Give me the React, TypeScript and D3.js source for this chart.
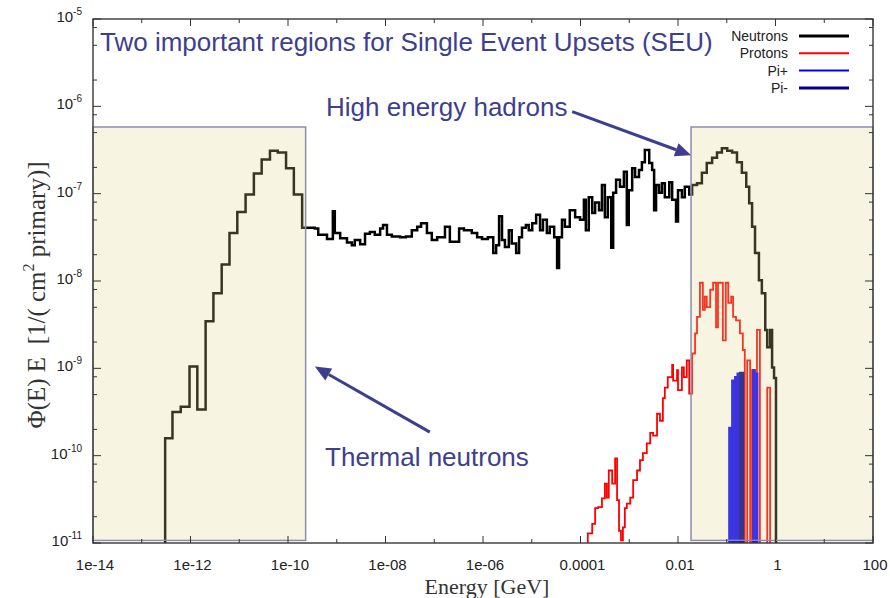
import React, { useEffect, useRef } from "react";
import * as d3 from "d3";

// histogram bins: [log10(E / GeV) of lower edge, log10(flux)], null = empty bin
type Bin = [number, number | null];

const neutronBins: Bin[] = [
  [-12.52, null], [-12.52, -9.80], [-12.37, -9.50], [-12.20, -9.44], [-12.02, -8.98], [-11.86, -9.47],
  [-11.69, -8.46], [-11.53, -8.14], [-11.36, -7.81], [-11.20, -7.45], [-11.04, -7.21], [-10.87, -7.01],
  [-10.70, -6.77], [-10.54, -6.61], [-10.37, -6.51], [-10.21, -6.53], [-10.04, -6.71], [-9.88, -7.01],
  [-9.71, -7.39], [-9.45, -7.40], [-9.38, -7.47], [-9.20, -7.52], [-9.08, -7.20], [-9.04, -7.45],
  [-8.93, -7.51], [-8.79, -7.56], [-8.69, -7.59], [-8.63, -7.53], [-8.52, -7.58], [-8.42, -7.46],
  [-8.32, -7.44], [-8.22, -7.47], [-8.11, -7.40], [-8.05, -7.36], [-7.97, -7.47], [-7.87, -7.49],
  [-7.70, -7.50], [-7.58, -7.49], [-7.46, -7.42], [-7.35, -7.38], [-7.27, -7.34], [-7.15, -7.45],
  [-7.05, -7.53], [-6.94, -7.50], [-6.78, -7.38], [-6.68, -7.55], [-6.49, -7.40], [-6.39, -7.42],
  [-6.23, -7.45], [-6.12, -7.50], [-6.02, -7.52], [-5.90, -7.50], [-5.79, -7.68], [-5.73, -7.59],
  [-5.67, -7.26], [-5.61, -7.53], [-5.55, -7.61], [-5.47, -7.42], [-5.41, -7.57], [-5.32, -7.68],
  [-5.26, -7.50], [-5.20, -7.39], [-5.12, -7.36], [-5.06, -7.42], [-4.99, -7.34], [-4.91, -7.24],
  [-4.83, -7.42], [-4.77, -7.30], [-4.69, -7.45], [-4.63, -7.38], [-4.54, -7.50], [-4.48, -7.85],
  [-4.44, -7.50], [-4.38, -7.30], [-4.32, -7.38], [-4.22, -7.19], [-4.11, -7.27], [-4.01, -7.30],
  [-3.93, -7.07], [-3.89, -7.42], [-3.83, -7.04], [-3.76, -7.22], [-3.70, -7.10], [-3.62, -7.19],
  [-3.56, -6.90], [-3.50, -7.27], [-3.44, -7.04], [-3.37, -7.62], [-3.33, -6.99], [-3.27, -6.84],
  [-3.19, -6.92], [-3.11, -6.75], [-3.05, -7.36], [-3.01, -6.96], [-2.94, -6.71], [-2.88, -6.81],
  [-2.80, -6.73], [-2.74, -6.64], [-2.68, -6.50], [-2.59, -6.65], [-2.53, -6.73], [-2.49, -7.19],
  [-2.45, -6.90], [-2.39, -6.99], [-2.33, -6.88], [-2.27, -7.04], [-2.18, -6.87], [-2.12, -7.07],
  [-2.04, -7.32], [-2.00, -6.96], [-1.92, -7.04], [-1.86, -6.92], [-1.77, -7.01], [-1.71, -6.90],
  [-1.61, -6.88], [-1.51, -6.76], [-1.41, -6.65], [-1.30, -6.59], [-1.20, -6.53], [-1.10, -6.48],
  [-0.99, -6.51], [-0.89, -6.53], [-0.79, -6.64], [-0.69, -6.76], [-0.60, -6.92], [-0.54, -7.11],
  [-0.48, -7.38], [-0.42, -7.68], [-0.34, -7.99], [-0.28, -8.14], [-0.21, -8.56], [-0.17, -8.76],
  [-0.11, -8.56], [-0.07, -8.99], [-0.03, -9.11], [0.01, null],
];

const protonBins: Bin[] = [
  [-3.85, null], [-3.85, -10.89], [-3.76, -10.78], [-3.70, -10.60], [-3.64, -10.59], [-3.56, -10.49],
  [-3.50, -10.32], [-3.46, -10.48], [-3.42, -10.17], [-3.35, -10.32], [-3.29, -10.03], [-3.25, -10.51],
  [-3.21, -10.86], [-3.17, -10.97], [-3.13, -10.82], [-3.09, -10.60], [-3.05, -10.55], [-2.98, -10.48],
  [-2.92, -10.28], [-2.84, -10.17], [-2.78, -10.05], [-2.72, -9.97], [-2.64, -9.86], [-2.57, -9.74],
  [-2.51, -9.77], [-2.43, -9.52], [-2.37, -9.60], [-2.31, -9.34], [-2.27, -9.22], [-2.21, -9.10],
  [-2.12, -8.96], [-2.10, -9.14], [-2.02, -9.02], [-2.00, -9.25], [-1.92, -8.99], [-1.88, -9.10],
  [-1.82, -8.91], [-1.77, -9.29], [-1.71, -8.83], [-1.65, -8.60], [-1.61, -8.41], [-1.55, -8.02],
  [-1.49, -8.33], [-1.45, -8.18], [-1.41, -8.30], [-1.34, -8.10], [-1.28, -8.02], [-1.22, -8.53],
  [-1.18, -8.02], [-1.12, -8.02], [-1.08, -8.68], [-1.02, -8.02], [-0.97, -8.25], [-0.91, -8.18],
  [-0.87, -8.41], [-0.81, -8.45], [-0.73, -8.60], [-0.67, -8.79], [-0.63, null], [-0.58, -8.91],
  [-0.52, null], [-0.48, -9.02], [-0.42, null], [-0.38, -8.56], [-0.32, null], [-0.17, -9.22],
  [-0.11, null],
];

const piPlusBins: Bin[] = [
  [-0.95, null], [-0.95, -9.68], [-0.92, null], [-0.89, -9.14], [-0.86, null], [-0.83, -9.10],
  [-0.80, null], [-0.78, -9.06], [-0.75, null], [-0.46, -9.02], [-0.43, null], [-0.40, -9.06],
  [-0.37, null],
];

const piMinusBins: Bin[] = [
  [-0.73, null], [-0.73, -9.05], [-0.70, null], [-0.68, -9.05], [-0.66, null],
];

const seriesNames = ["Neutrons", "Protons", "Pi+", "Pi-"];
const seriesColors = ["#000000", "#ff0000", "#0000ff", "#00008b"];
const seriesWidths = [2.5, 1.8, 2, 2];

const xTickValues = [1e-14, 1e-12, 1e-10, 1e-8, 1e-6, 1e-4, 1e-2, 1, 100];
const xTickLabels = ["1e-14", "1e-12", "1e-10", "1e-08", "1e-06", "0.0001", "0.01", "1", "100"];
const yTickExponents = [-5, -6, -7, -8, -9, -10, -11];

// shaded SEU regions (energy range, flux range)
const thermalRegion = [1e-14, 2.3e-10];
const hadronRegion = [1.85e-2, 100];
const regionFlux = [1.07e-11, 5.8e-7];

const SANS = "'Liberation Sans', Arial, sans-serif";
const SERIF = "'Liberation Serif', 'Times New Roman', serif";
const NOTE = "#3e3e8e";

export default function App() {
  const ref = useRef<SVGSVGElement>(null);

  useEffect(() => {
    const width = 890;
    const height = 598;
    const margin = { top: 19, right: 17, bottom: 55, left: 93 };
    const innerW = width - margin.left - margin.right;
    const innerH = height - margin.top - margin.bottom;

    const svg = d3.select(ref.current);
    svg.selectAll("*").remove();
    svg.append("rect").attr("width", width).attr("height", height).attr("fill", "#fff");

    const g = svg.append("g").attr("transform", `translate(${margin.left},${margin.top})`);
    const x = d3.scaleLog().domain([1e-14, 100]).range([0, innerW]);
    const y = d3.scaleLog().domain([1e-11, 1e-5]).range([innerH, 0]);

    g.append("clipPath").attr("id", "plot-clip")
      .append("rect").attr("width", innerW).attr("height", innerH);

    const line = d3.line<Bin>()
      .x(d => x(10 ** d[0]))
      .y(d => (d[1] == null ? innerH + 3 : y(10 ** d[1])))
      .curve(d3.curveStepAfter);

    const allBins = [neutronBins, protonBins, piPlusBins, piMinusBins];
    allBins.forEach((bins, i) => {
      g.append("path")
        .attr("d", line(bins))
        .attr("fill", "none")
        .attr("stroke", seriesColors[i])
        .attr("stroke-width", seriesWidths[i])
        .attr("clip-path", "url(#plot-clip)");
    });

    // translucent region boxes over the curves
    [thermalRegion, hadronRegion].forEach(r => {
      g.append("rect")
        .attr("x", x(r[0]))
        .attr("y", y(regionFlux[1]))
        .attr("width", x(r[1]) - x(r[0]))
        .attr("height", y(regionFlux[0]) - y(regionFlux[1]))
        .attr("fill", "rgb(226,212,140)")
        .attr("fill-opacity", 0.25)
        .attr("stroke", "#8c8cae")
        .attr("stroke-width", 1.5);
    });

    // frame
    g.append("rect").attr("width", innerW).attr("height", innerH)
      .attr("fill", "none").attr("stroke", "#444").attr("stroke-width", 1.5);

    // x ticks every decade
    d3.range(-14, 3).forEach(e => {
      const tx = x(10 ** e);
      const len = e % 2 === 0 ? 7 : 4;
      g.append("line").attr("x1", tx).attr("x2", tx).attr("y1", innerH).attr("y2", innerH - len)
        .attr("stroke", "#333");
      g.append("line").attr("x1", tx).attr("x2", tx).attr("y1", 0).attr("y2", len)
        .attr("stroke", "#333");
    });
    g.selectAll(".xlab").data(xTickValues).join("text")
      .attr("class", "xlab")
      .attr("x", d => x(d) + 2)
      .attr("y", innerH + 27)
      .attr("text-anchor", "middle")
      .style("font-family", SANS)
      .style("font-size", "15px")
      .attr("fill", "#222")
      .text((d, i) => xTickLabels[i]);

    // y ticks: decades plus 2, 5, 8
    yTickExponents.forEach(e => {
      const ty = y(10 ** e);
      [[0, 8], [innerW, innerW - 8]].forEach(([a, b]) =>
        g.append("line").attr("x1", a).attr("x2", b).attr("y1", ty).attr("y2", ty).attr("stroke", "#333"));
      if (e > -11) {
        [2, 5, 8].forEach(m => {
          const my = y(m * 10 ** (e - 1));
          [[0, 4], [innerW, innerW - 4]].forEach(([a, b]) =>
            g.append("line").attr("x1", a).attr("x2", b).attr("y1", my).attr("y2", my).attr("stroke", "#333"));
        });
      }
      const t = g.append("text")
        .attr("x", -11)
        .attr("y", ty + 3)
        .attr("text-anchor", "end")
        .style("font-family", SANS)
        .attr("fill", "#222");
      t.append("tspan").style("font-size", "15px").text("10");
      t.append("tspan").style("font-size", "10px").attr("dy", -7).text(String(e));
    });

    // axis titles
    const yt = svg.append("text")
      .attr("transform", "translate(45,295) rotate(-90)")
      .attr("text-anchor", "middle")
      .style("font-family", SERIF)
      .style("font-size", "25px")
      .style("white-space", "pre")
      .attr("fill", "#333");
    yt.append("tspan").text("\u03A6(E) E  [1/( cm");
    yt.append("tspan").attr("dy", -11).style("font-size", "16px").text("2");
    yt.append("tspan").attr("dy", 11).text(" primary)]");

    svg.append("text")
      .attr("x", margin.left + innerW / 2 + 4)
      .attr("y", 594)
      .attr("text-anchor", "middle")
      .style("font-family", SERIF)
      .style("font-size", "22px")
      .attr("fill", "#333")
      .text("Energy [GeV]");

    // title
    svg.append("text")
      .attr("x", 100)
      .attr("y", 51)
      .style("font-family", SANS)
      .style("font-size", "26px")
      .attr("fill", NOTE)
      .text("Two important regions for Single Event Upsets (SEU)");

    // legend
    seriesNames.forEach((name, i) => {
      const ly = 36 + i * 17.3;
      svg.append("text")
        .attr("x", 788)
        .attr("y", ly + 5)
        .attr("text-anchor", "end")
        .style("font-family", SANS)
        .style("font-size", "14px")
        .attr("fill", "#222")
        .text(name);
      svg.append("line")
        .attr("x1", 799).attr("x2", 849).attr("y1", ly).attr("y2", ly)
        .attr("stroke", seriesColors[i])
        .attr("stroke-width", i === 0 || i === 3 ? 3 : 2);
    });

    // annotations with arrows (positions in data space)
    const arrow = (from: number[], to: number[]) => {
      const x1 = x(10 ** from[0]), y1 = y(10 ** from[1]);
      const x2 = x(10 ** to[0]), y2 = y(10 ** to[1]);
      const ang = Math.atan2(y2 - y1, x2 - x1);
      const head = 16, half = 7;
      const bx = x2 - head * Math.cos(ang), by = y2 - head * Math.sin(ang);
      g.append("line").attr("x1", x1).attr("y1", y1).attr("x2", bx).attr("y2", by)
        .attr("stroke", NOTE).attr("stroke-width", 3);
      const pts = [
        [x2, y2],
        [bx + half * Math.sin(ang), by - half * Math.cos(ang)],
        [bx - half * Math.sin(ang), by + half * Math.cos(ang)],
      ];
      g.append("polygon").attr("points", pts.map(p => p.join(",")).join(" ")).attr("fill", NOTE);
    };
    arrow([-4.17, -6.06], [-1.73, -6.56]);
    arrow([-7.09, -9.73], [-9.45, -8.98]);

    const note = (txt: string, pos: number[]) =>
      g.append("text")
        .attr("x", x(10 ** pos[0]))
        .attr("y", y(10 ** pos[1]))
        .style("font-family", SANS)
        .style("font-size", "26px")
        .attr("fill", NOTE)
        .text(txt);
    note("High energy hadrons", [-9.22, -6.11]);
    note("Thermal neutrons", [-9.24, -10.12]);
  }, []);

  return (
    <svg
      ref={ref}
      width={890}
      height={598}
      style={{ position: "absolute", left: 0, top: 0, background: "#fff" }}
    />
  );
}
